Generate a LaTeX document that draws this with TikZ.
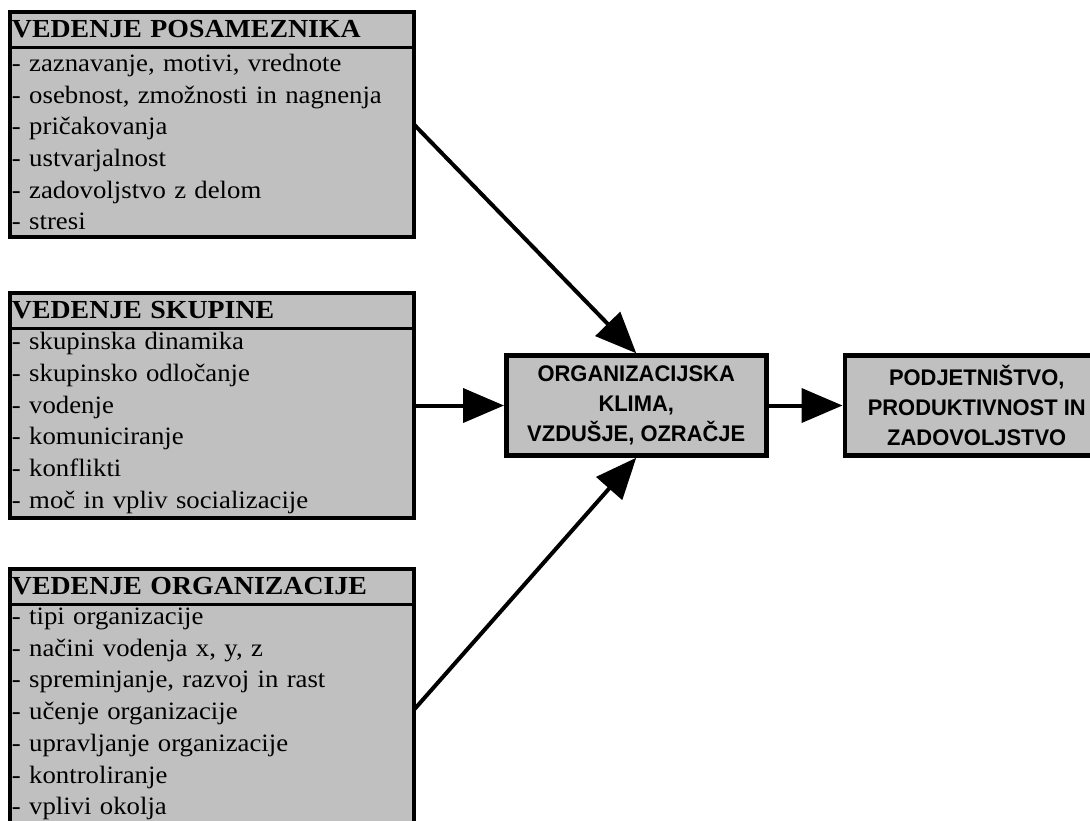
\documentclass[tikz,border=0pt]{standalone}
\usepackage{fontspec}
\setmainfont{Liberation Serif}
\setsansfont{Liberation Sans}
\newfontfamily\listfont[FakeStretch=1.07]{Liberation Serif}
\newfontfamily\headfont[FakeStretch=1.07]{Liberation Serif}
\newfontfamily\climatefont[FakeStretch=0.97]{Liberation Sans}
\usetikzlibrary{arrows.meta, positioning, fit}
\definecolor{boxgray}{RGB}{192,192,192}
\tikzstyle{head} = [rectangle, draw, line width=3pt, fill=boxgray, outer sep=0pt, inner xsep=2pt, text width=400pt, minimum height=35pt, align=left, font=\headfont\bfseries\fontsize{26}{30}\selectfont]
\tikzstyle{list} = [rectangle, draw, line width=3pt, fill=boxgray, outer sep=0pt, inner xsep=2pt, inner ysep=4pt, text width=400pt, minimum height=190pt, align=left, font=\listfont\fontsize{25}{31.7}\selectfont]
\tikzstyle{frame} = [rectangle, draw, line width=4.5pt, inner sep=0pt, outer sep=0pt]
\tikzstyle{climate} = [rectangle, draw, line width=4.5pt, fill=boxgray, minimum width=260pt, minimum height=100pt, align=center, font=\climatefont\bfseries\fontsize{22.6}{30}\selectfont]
\tikzstyle{cable} = [line width=4pt, -{Triangle[length=41pt, width=34pt]}]

\begin{document}
\begin{tikzpicture}[x=1pt, y=1pt]
  \useasboundingbox (0,0) rectangle (1090,-820);
  %Individual
  \node (posHead) [head, anchor=north west] at (10,-12) {VEDENJE POSAMEZNIKA};
  \node (posList) [list, below=0pt of posHead] {- zaznavanje, motivi, vrednote\\- osebnost, zmožnosti in nagnenja\\- pričakovanja\\- ustvarjalnost\\- zadovoljstvo z delom\\- stresi};
  \node (pos) [frame, fit=(posHead)(posList)] {};
  %Group
  \node (skupHead) [head, below=56pt of pos] {VEDENJE SKUPINE};
  \node (skupList) [list, below=0pt of skupHead] {- skupinska dinamika\\- skupinsko odločanje\\- vodenje\\- komuniciranje\\- konflikti\\- moč in vpliv socializacije};
  \node (skup) [frame, fit=(skupHead)(skupList)] {};
  %Organization
  \node (orgHead) [head, below=51pt of skup] {VEDENJE ORGANIZACIJE};
  \node (orgList) [list, below=0pt of orgHead] {- tipi organizacije\\- načini vodenja x, y, z\\- spreminjanje, razvoj in rast\\- učenje organizacije\\- upravljanje organizacije\\- kontroliranje\\- vplivi okolja\\ \mbox{}};
  \node (org) [frame, fit=(orgHead)(orgList)] {};
  %Climate and outcome
  \node (klima) [climate, right=90pt of skup] {ORGANIZACIJSKA\\KLIMA,\\VZDUŠJE, OZRAČJE};
  \node (podj) [climate, minimum width=264pt, right=74pt of klima] {PODJETNIŠTVO,\\PRODUKTIVNOST IN\\ZADOVOLJSTVO};
  \draw [cable] (pos.east) -- (klima.north);
  \draw [cable] (skup) -- (klima);
  \draw [cable] (org.east) -- (klima.south);
  \draw [cable] (klima) -- (podj);
\end{tikzpicture}
\end{document}
